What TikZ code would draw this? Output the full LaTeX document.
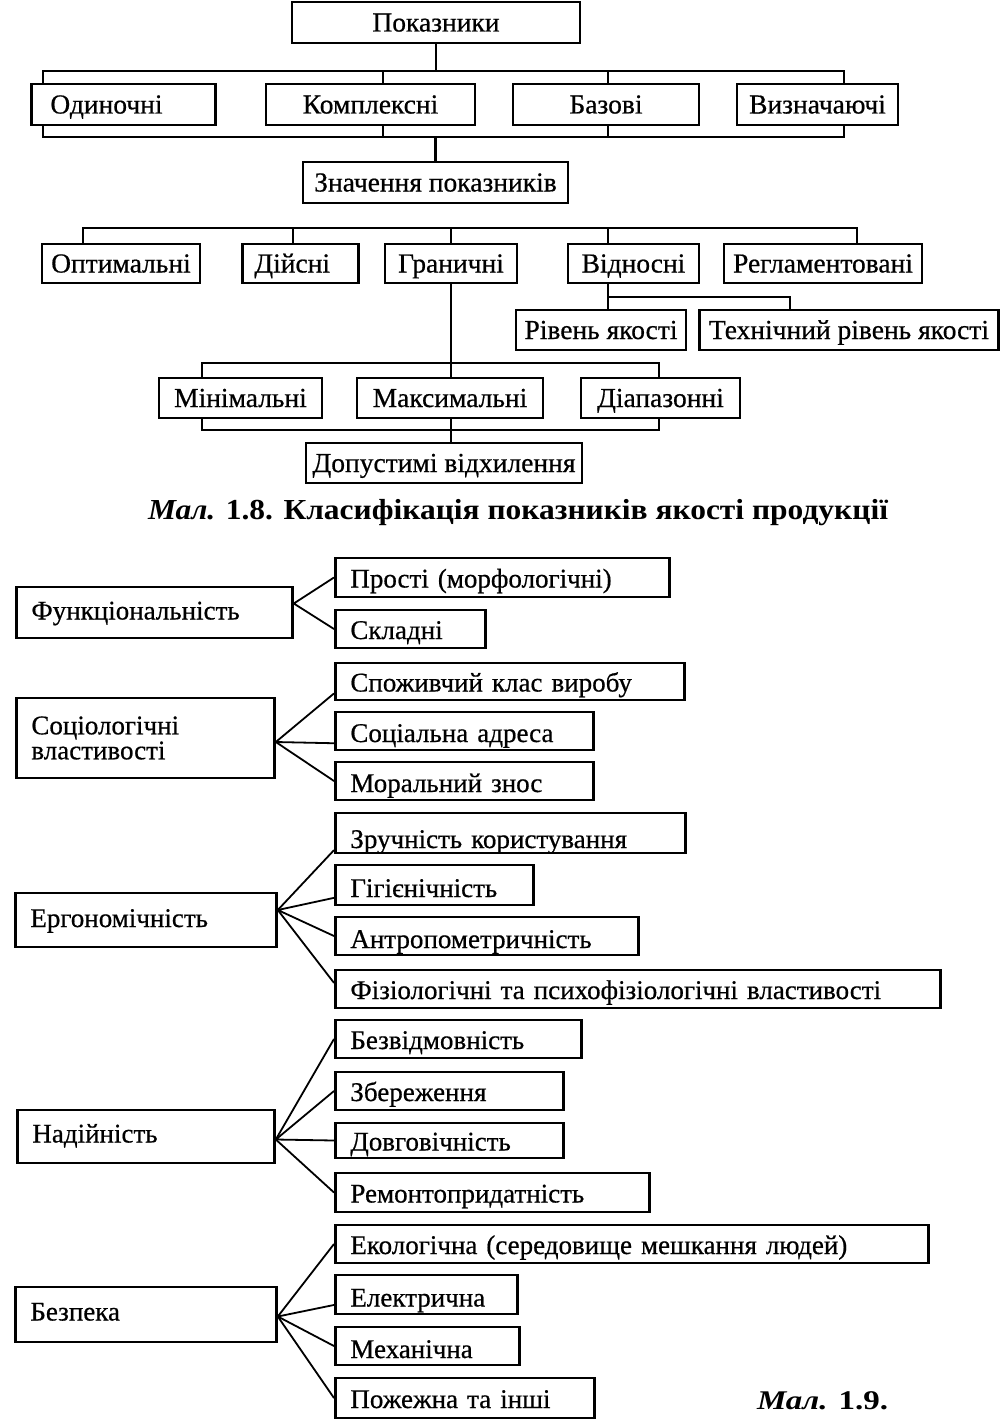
\documentclass[tikz,border=0pt]{standalone}
\usepackage{fontspec}
\usepackage{graphicx}
\setmainfont{Liberation Serif}
\newfontfamily\scanfont[FakeBold=0.6]{Liberation Serif}
\usetikzlibrary{calc}
\begin{document}
\begin{tikzpicture}[x=1pt,y=-1pt,
  bx/.style={draw, line width=2.8pt, inner sep=0pt, font=\scanfont\fontsize{27.5}{30}\selectfont, text height=20pt, text depth=2pt},
  tb/.style={bx, minimum height=41pt},
  lb/.style={draw, line width=2.8pt, inner xsep=15pt, inner ysep=0pt, align=left, anchor=west, font=\scanfont\fontsize{27}{25}\selectfont, text height=22pt, text depth=2pt},
  lft/.style={lb, text height=18pt, text depth=4pt},
  conn/.style={line width=2.5pt},
  fan/.style={line width=1.8pt}]
\useasboundingbox (0,0) rectangle (1002,1426);
% ---------- Figure 1.8 ----------
\node[tb, minimum width=288pt] (pok) at (436,22.5) {Показники};
\node[tb, anchor=west, align=left, inner xsep=19pt, text width=146pt] (odyn) at (30,104.5) {Одиночні};
\node[tb, minimum width=209pt] (kompl) at (370.5,104.5) {Комплексні};
\node[tb, minimum width=186pt] (baz) at (606,104.5) {Базові};
\node[tb, minimum width=161pt] (vyzn) at (817.5,104.5) {Визначаючі};
\node[tb, minimum width=265pt] (znach) at (435.5,182.5) {Значення показників};
\node[tb, minimum width=158pt, minimum height=39pt] (opt) at (121,263.5) {Оптимальні};
\node[tb, anchor=west, align=left, inner xsep=12pt, text width=92pt, minimum height=39pt] (diys) at (241,263.5) {Дійсні};
\node[tb, minimum width=132pt, minimum height=39pt] (hran) at (451,263.5) {Граничні};
\node[tb, minimum width=131pt, minimum height=39pt] (vidn) at (633.5,263.5) {Відносні};
\node[tb, minimum width=198pt, minimum height=39pt] (rehl) at (823,263.5) {Регламентовані};
\node[tb, minimum width=170pt, minimum height=40pt] (riv) at (601,330) {Рівень якості};
\node[tb, minimum width=299pt, minimum height=40pt] (tekh) at (849,330) {Технічний рівень якості};
\node[tb, minimum width=163pt, minimum height=40pt] (min) at (240.5,398) {Мінімальні};
\node[tb, minimum width=186pt, minimum height=40pt] (max) at (450,398) {Максимальні};
\node[tb, minimum width=159pt, minimum height=40pt] (diap) at (660.5,398) {Діапазонні};
\node[tb, minimum width=276pt, minimum height=40pt] (dop) at (444,463) {Допустимі відхилення};

\coordinate (a1) at (43,71); \coordinate (a2) at (383,71);
\coordinate (a3) at (608,71); \coordinate (a4) at (844,71);
\draw[conn] (pok.south) -- (pok.south |- a1);
\draw[conn] (a1 |- odyn.north) -- (a1) -- (a4) -- (a4 |- vyzn.north);
\draw[conn] (a2) -- (a2 |- kompl.north);
\draw[conn] (a3) -- (a3 |- baz.north);
\coordinate (c1) at (43,137); \coordinate (c2) at (383,137);
\coordinate (c3) at (608,137); \coordinate (c4) at (844,137);
\draw[conn] (c1 |- odyn.south) -- (c1) -- (c4) -- (c4 |- vyzn.south);
\draw[conn] (c2) -- (c2 |- kompl.south);
\draw[conn] (c3) -- (c3 |- baz.south);
\draw[conn] (znach.north) -- (znach.north |- c1);

\coordinate (d1) at (83,228); \coordinate (d2) at (293,228);
\coordinate (d3) at (451,228); \coordinate (d4) at (608,228);
\coordinate (d5) at (857,228);
\draw[conn] (d1 |- opt.north) -- (d1) -- (d5) -- (d5 |- rehl.north);
\draw[conn] (d2) -- (d2 |- diys.north);
\draw[conn] (d3) -- (d3 |- hran.north);
\draw[conn] (d4) -- (d4 |- vidn.north);

\coordinate (e1) at (608,297); \coordinate (e2) at (790,297);
\draw[conn] (e1 |- vidn.south) -- (e1 |- riv.north);
\draw[conn] (e1) -- (e2) -- (e2 |- tekh.north);

\coordinate (g1) at (202,363); \coordinate (g3) at (659,363);
\draw[conn] (hran.south) -- (hran.south |- max.north);
\draw[conn] (g1 |- min.north) -- (g1) -- (g3) -- (g3 |- diap.north);
\coordinate (h1) at (202,430); \coordinate (h2) at (451,430); \coordinate (h3) at (659,430);
\draw[conn] (h1 |- min.south) -- (h1) -- (h3) -- (h3 |- diap.south);
\draw[conn] (h2 |- max.south) -- (h2 |- dop.north);

\node[inner sep=0pt] (cap1) at (518,513) {\resizebox{740pt}{\height}{\fontsize{29}{32}\selectfont\bfseries\textit{Мал.} 1.8. Класифікація показників якості продукції}};

% ---------- Figure 1.9 ----------
\node[lft, text width=246pt, minimum height=51pt] (fun) at (15,612.5) {Функціональність};
\node[lb, text width=304pt, minimum height=39pt] (pro) at (334,577.5) {Прості (морфологічні)};
\node[lb, text width=120pt, minimum height=38pt] (skl) at (334,629) {Складні};

\node[lb, text height=, text depth=, text width=228pt, minimum height=80pt] (soc) at (15,738) {Соціологічні\\властивості};
\node[lb, text width=319pt, minimum height=37pt] (spo) at (334,681.5) {Споживчий клас виробу};
\node[lb, text height=24pt, text width=228pt, minimum height=38pt] (sad) at (334,731) {Соціальна адреса};
\node[lb, text height=24pt, text width=228pt, minimum height=38pt] (mor) at (334,781) {Моральний знос};

\node[lft, text width=231pt, minimum height=54pt] (erg) at (14,920) {Ергономічність};
\node[lb, text height=32pt, text width=320pt, minimum height=40pt] (zru) at (334,833) {Зручність користування};
\node[lb, text height=26pt, text width=168pt, minimum height=40pt] (gig) at (334,885) {Гігієнічність};
\node[lb, text height=26pt, text width=273pt, minimum height=38pt] (ant) at (334,936) {Антропометричність};
\node[lb, text width=575pt, minimum height=38pt] (fiz) at (334,989) {Фізіологічні та психофізіологічні властивості};

\node[lft, text height=16pt, text width=227pt, minimum height=53pt] (nad) at (16,1136.5) {Надійність};
\node[lb, text width=216pt, minimum height=38pt] (bez) at (334,1039) {Безвідмовність};
\node[lb, text width=198pt, minimum height=38pt] (zbe) at (334,1091) {Збереження};
\node[lb, text width=198pt, minimum height=35pt] (dov) at (334,1140.5) {Довговічність};
\node[lb, text width=284pt, minimum height=39pt] (rem) at (334,1192.5) {Ремонтопридатність};

\node[lft, text height=16pt, text width=231pt, minimum height=55pt] (bzp) at (14,1314.5) {Безпека};
\node[lb, text width=563pt, minimum height=38pt] (eko) at (334,1244) {Екологічна (середовище мешкання людей)};
\node[lb, text height=26pt, text width=152pt, minimum height=39pt] (ele) at (334,1294.5) {Електрична};
\node[lb, text height=26pt, text width=154pt, minimum height=38pt] (mek) at (334,1346) {Механічна};
\node[lb, text width=229pt, minimum height=40pt] (poz) at (334,1398) {Пожежна та інші};

\coordinate (F1) at ($(fun.east)+(0,-9)$);
\draw[fan] (pro.west) -- (F1) -- (skl.west);
\coordinate (F2) at ($(soc.east)+(0,4)$);
\draw[fan] ($(spo.south west)!0.2!(spo.north west)$) -- (F2) -- (mor.west);
\draw[fan] (F2) -- ($(sad.south west)!0.2!(sad.north west)$);
\coordinate (F3) at ($(erg.east)+(0,-10)$);
\draw[fan] ($(zru.south west)!0.1!(zru.north west)$) -- (F3) -- ($(fiz.south west)!0.65!(fiz.north west)$);
\draw[fan] ($(gig.south west)!0.2!(gig.north west)$) -- (F3) -- (ant.west);
\coordinate (F4) at ($(nad.east)+(0,3)$);
\draw[fan] (bez.west) -- (F4) -- (rem.west);
\draw[fan] (zbe.west) -- (F4) -- (dov.west);
\coordinate (F5) at ($(bzp.east)+(0,2)$);
\draw[fan] (eko.west) -- (F5) -- (poz.west);
\draw[fan] ($(ele.south west)!0.25!(ele.north west)$) -- (F5) -- (mek.west);

\node[inner sep=0pt] (cap2) at (822.5,1401) {\resizebox{131pt}{\height}{\fontsize{27}{30}\selectfont\bfseries\textit{Мал.} 1.9.}};
\end{tikzpicture}
\end{document}
